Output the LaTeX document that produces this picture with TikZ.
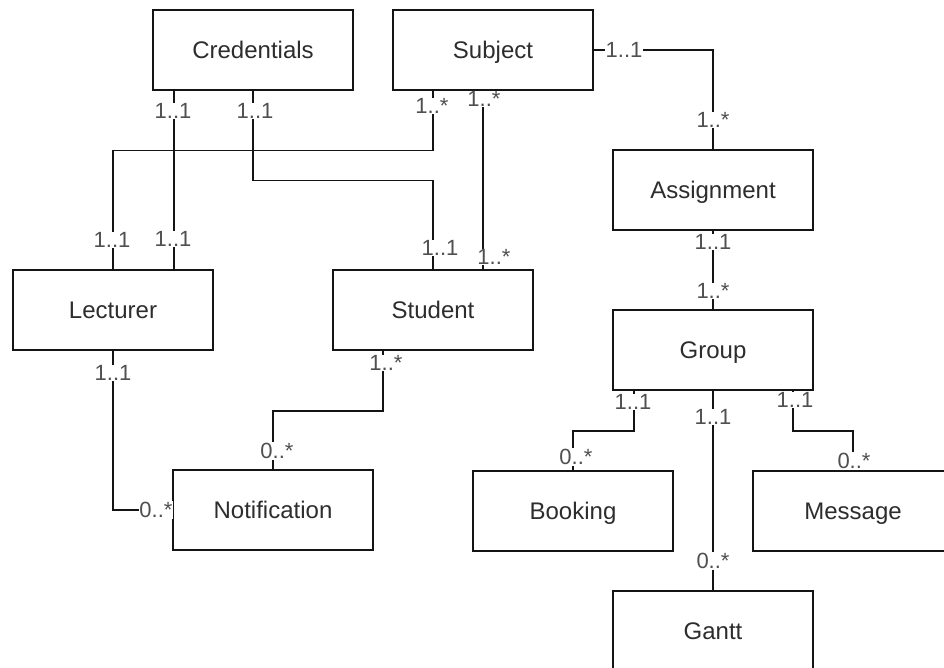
\documentclass[tikz,border=0pt]{standalone}
\usepackage{fontspec}
\setmainfont{Liberation Sans}
\usepackage{xcolor}
\definecolor{boxtext}{RGB}{45,45,45}
\definecolor{multtext}{RGB}{80,80,80}
\definecolor{edgeline}{RGB}{20,20,20}

\tikzset{
  entity/.style={draw=edgeline,line width=1.5pt,fill=white,
    minimum width=200pt,minimum height=80pt,
    text height=17.5pt,text depth=0pt,
    text=boxtext,font=\fontsize{24}{28}\selectfont},
  mult/.style={fill=white,inner sep=0.8pt,text=multtext,
    font=\fontsize{22}{26}\selectfont},
  assoc/.style={edgeline,line width=1.5pt}
}

\begin{document}
\begin{tikzpicture}[x=1pt,y=-1pt]

  % ── CANVAS ────────────────────────────────────────────────────────────────
  \useasboundingbox (0,0) rectangle (944,668);
  \clip (0,0) rectangle (944,668);
  \fill[white] (0,0) rectangle (944,668);

  % ── ENTITIES ──────────────────────────────────────────────────────────────
  \node[entity] (cred)  at (253,50)  {Credentials};
  \node[entity] (subj)  at (493,50)  {Subject};
  \node[entity] (asg)   at (713,190) {Assignment};
  \node[entity] (lect)  at (113,310) {Lecturer};
  \node[entity] (stud)  at (433,310) {Student};
  \node[entity] (grp)   at (713,350) {Group};
  \node[entity] (notif) at (273,510) {Notification};
  \node[entity] (book)  at (573,511) {Booking};
  \node[entity] (msg)   at (853,511) {Message};
  \node[entity] (gantt) at (713,631) {Gantt};

  % ── ASSOCIATIONS ──────────────────────────────────────────────────────────
  % left block: credentials / subject to lecturer and student
  \draw[assoc] ([xshift=-79pt]cred.south) -- ([xshift=61pt]lect.north);
  \draw[assoc] (cred.south) -- ++(0,90) -| (stud.north);
  \draw[assoc] ([xshift=-60pt]subj.south) -- ++(0,60) -| (lect.north);
  \draw[assoc] ([xshift=-10pt]subj.south) -- ([xshift=50pt]stud.north);

  % right block: subject down to group and its parts
  \draw[assoc] (subj.east) -| (asg.north);
  \draw[assoc] (asg.south) -- (grp.north);
  \draw[assoc] ([xshift=-79pt]grp.south) -- ++(0,40) -| (book.north);
  \draw[assoc] (grp.south) -- (gantt.north);
  \draw[assoc] ([xshift=80pt]grp.south) -- ++(0,40) -| (msg.north);

  % notifications
  \draw[assoc] (lect.south) |- (notif.west);
  \draw[assoc] ([xshift=-50pt]stud.south) -- ++(0,60) -| (notif.north);

  % ── MULTIPLICITIES ────────────────────────────────────────────────────────
  % white boxes cut the lines, as in the drawing
  \node[mult] (mcl1) at (173,111) {1..1};
  \node[mult] (mcl2) at (173,239) {1..1};
  \node[mult] (mcs1) at (255,111) {1..1};
  \node[mult] (mcs2) at (440,248) {1..1};
  \node[mult] (msl1) at (432,106) {1..*};
  \node[mult] (msl2) at (112,240) {1..1};
  \node[mult] (mss1) at (484,99)  {1..*};
  \node[mult] (mss2) at (494,257) {1..*};
  \node[mult] (msa1) at (624,50)  {1..1};
  \node[mult] (msa2) at (713,120) {1..*};
  \node[mult] (mag1) at (713,242) {1..1};
  \node[mult] (mag2) at (713,291) {1..*};
  \node[mult] (mgb1) at (633,402) {1..1};
  \node[mult] (mgb2) at (576,457) {0..*};
  \node[mult] (mgg1) at (713,417) {1..1};
  \node[mult] (mgg2) at (713,561) {0..*};
  \node[mult] (mgm1) at (795,400) {1..1};
  \node[mult] (mgm2) at (854,461) {0..*};
  \node[mult] (mln1) at (113,373) {1..1};
  \node[mult] (mln2) at (156,510) {0..*};
  \node[mult] (msn1) at (386,363) {1..*};
  \node[mult] (msn2) at (277,451) {0..*};

\end{tikzpicture}
\end{document}
